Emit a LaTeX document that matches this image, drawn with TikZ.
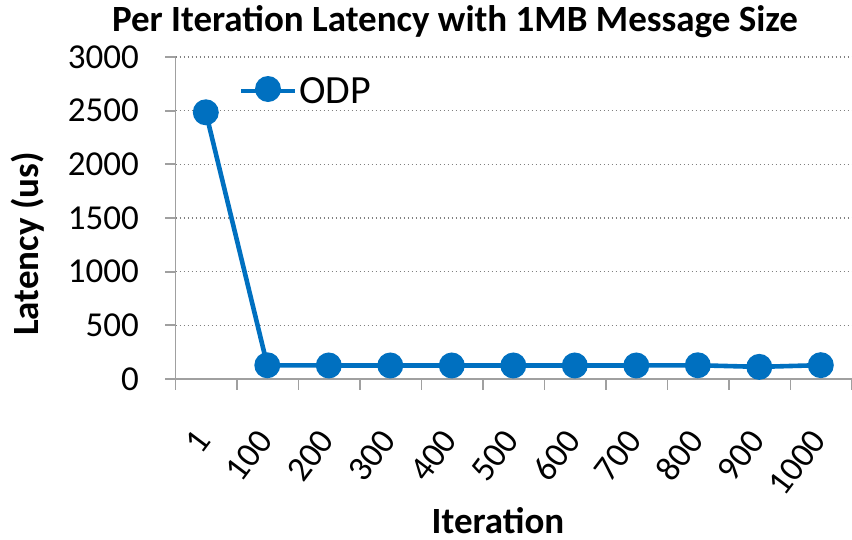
\documentclass[tikz,border=0pt]{standalone}
\usepackage{fontspec}
\setmainfont{Carlito}
\usetikzlibrary{positioning}
\definecolor{odpblue}{HTML}{0070C0}
\definecolor{axisgray}{HTML}{A0A0A0}
\definecolor{gridgray}{HTML}{808080}

\begin{document}
\begin{tikzpicture}[x=1pt, y=-1pt,
    ticklabel/.style={font=\fontsize{35}{40}\selectfont, inner sep=0pt},
    axistitle/.style={font=\fontsize{37}{44}\selectfont\bfseries, inner sep=0pt},
    gridline/.style={draw=gridgray, line width=1.6pt, dash pattern=on 1.6pt off 2.4pt},
    axisline/.style={draw=axisgray, line width=1.8pt},
    series/.style={draw=odpblue, line width=4.6pt},
    marker/.style={circle, fill=odpblue, inner sep=0pt, minimum size=26pt}
  ]
    \useasboundingbox (0,0) rectangle (852,539);

    % value grid, y ticks and their labels (0..3000, step 500)
    \foreach \v [count=\k from 0] in {0,500,1000,1500,2000,2500,3000} {
      \draw[axisline] (165,{379-53.67*\k}) -- (175.5,{379-53.67*\k});
      \ifnum\k>0
        \draw[gridline] (175.5,{379-53.67*\k}) -- (852,{379-53.67*\k});
      \fi
      \node[ticklabel, anchor=east] (ylab\k) at (139,{379-53.67*\k}) {\v};
    }

    % axes
    \draw[axisline] (175.5,57) -- (175.5,379);
    \draw[axisline] (165,379) -- (852,379);
    \foreach \k in {0,...,11}
      \draw[axisline] ({175.5+61.5*\k},379) -- ({175.5+61.5*\k},390);

    % category labels
    \foreach \c [count=\k from 0] in {1,100,200,300,400,500,600,700,800,900,1000}
      \node[ticklabel, anchor=east, rotate=53] (xlab\k) at ({203.5+61.5*\k},434) {\c};

    % titles
    \node[axistitle] (title) at (455,22) {Per Iteration Latency with 1MB Message Size};
    \node[axistitle, rotate=90] (ytitle) at (28,244) {Latency (us)};
    \node[axistitle] (xtitle) at (498,521) {Iteration};

    % ODP series
    \node[marker] (p1) at (205.8,{379-2485*0.10733}) {};
    \node[marker] (p2) at (267.3,{379-128*0.10733}) {};
    \node[marker] (p3) at (328.8,{379-126*0.10733}) {};
    \node[marker] (p4) at (390.3,{379-126*0.10733}) {};
    \node[marker] (p5) at (451.8,{379-126*0.10733}) {};
    \node[marker] (p6) at (513.3,{379-126*0.10733}) {};
    \node[marker] (p7) at (574.8,{379-126*0.10733}) {};
    \node[marker] (p8) at (636.3,{379-126*0.10733}) {};
    \node[marker] (p9) at (697.8,{379-128*0.10733}) {};
    \node[marker] (p10) at (759.3,{379-113*0.10733}) {};
    \node[marker] (p11) at (820.8,{379-129*0.10733}) {};
    \draw[series] (p1.center) -- (p2.center) -- (p3.center) -- (p4.center) -- (p5.center) -- (p6.center)
      -- (p7.center) -- (p8.center) -- (p9.center) -- (p10.center) -- (p11.center);

    % legend
    \coordinate (keyL) at (241,91);
    \coordinate (keyR) at (295,91);
    \draw[series] (keyL) -- (keyR);
    \node[marker] (keymark) at (268,89) {};
    \node[ticklabel, anchor=west, font=\fontsize{40}{46}\selectfont] (keytext) at (299,91) {ODP};
  \end{tikzpicture}
\end{document}
